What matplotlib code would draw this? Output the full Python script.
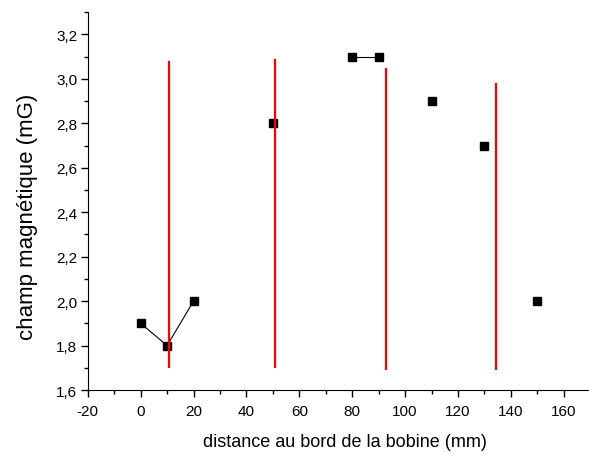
import matplotlib.pyplot as plt
import numpy as np
from matplotlib.ticker import MultipleLocator, FuncFormatter

plt.rcParams['font.family'] = ['Liberation Sans', 'DejaVu Sans']
plt.rcParams['axes.unicode_minus'] = False

dist = [0, 10, 20, 50, 80, 90, 110, 130, 150]
champ = [1.9, 1.8, 2.0, 2.8, 3.1, 3.1, 2.9, 2.7, 2.0]
groupe = [0, 0, 0, 1, 2, 2, 3, 4, 5]

red_x = [10.6, 50.9, 92.9, 134.2]
red_bas = [1.70, 1.70, 1.69, 1.69]
red_haut = [3.08, 3.09, 3.05, 2.98]

fig = plt.figure(figsize=(5.89, 4.56), dpi=100)
ax = fig.add_axes([0.149, 0.1425, 0.853, 0.8285])

dist = np.array(dist)
champ = np.array(champ)
groupe = np.array(groupe)
for g in np.unique(groupe):
    m = groupe == g
    ax.plot(dist[m], champ[m], '-', color='black', lw=0.8)
ax.plot(dist, champ, 's', color='black', ms=6, lw=0)

ax.vlines(red_x, red_bas, red_haut, colors='red', lw=1.6)

ax.set_xlim(-20, 170)
ax.set_ylim(1.6, 3.3)
ax.xaxis.set_major_locator(MultipleLocator(20))
ax.xaxis.set_minor_locator(MultipleLocator(10))
ax.yaxis.set_major_locator(MultipleLocator(0.2))
ax.yaxis.set_minor_locator(MultipleLocator(0.1))
ax.yaxis.set_major_formatter(FuncFormatter(lambda v, p: f"{v:.1f}".replace('.', ',')))

ax.spines['top'].set_visible(False)
ax.spines['right'].set_visible(False)
ax.tick_params(which='major', length=5, width=1, labelsize=11)
ax.tick_params(which='minor', length=3, width=1)
ax.tick_params(axis='x', which='major', pad=5)
ax.tick_params(axis='y', which='major', pad=2.5)

ax.set_xlabel('distance au bord de la bobine (mm)', fontsize=13)
ax.set_ylabel('champ magnétique (mG)', fontsize=16)
ax.xaxis.set_label_coords(0.511, -0.113)
ax.yaxis.set_label_coords(-0.10, 0.46)

fig.savefig('out.png', dpi=100)
